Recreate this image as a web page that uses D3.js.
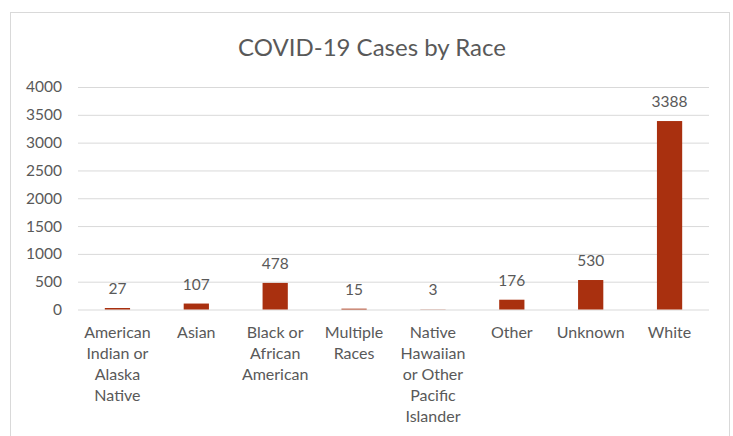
<!DOCTYPE html>
<html><head><meta charset="utf-8">
<script src="https://cdn.jsdelivr.net/npm/d3@7"></script>
<style>body{margin:0;background:#fff}svg{display:block}</style>
</head><body>
<svg id="c" width="733" height="436"></svg>
<script>
const categories = [
  ["American","Indian or","Alaska","Native"],
  ["Asian"],
  ["Black or","African","American"],
  ["Multiple","Races"],
  ["Native","Hawaiian","or Other","Pacific","Islander"],
  ["Other"],
  ["Unknown"],
  ["White"]
];
const values = [27, 107, 478, 15, 3, 176, 530, 3388];
const yTicks = [0, 500, 1000, 1500, 2000, 2500, 3000, 3500, 4000];
const title = "COVID-19 Cases by Race";

const svg = d3.select("#c");
const font = "Lato, 'Open Sans', sans-serif";
const gray = "#595959";

svg.append("rect").attr("x", 10.5).attr("y", 12.5).attr("width", 719).attr("height", 430)
  .attr("fill", "#fff").attr("stroke", "#d9d9d9");

svg.append("text").attr("x", 372).attr("y", 56).attr("text-anchor", "middle")
  .attr("font-family", font).attr("font-size", 24).attr("fill", gray).text(title);

const x = d3.scaleBand().domain(categories.map((d, i) => i)).range([78, 709]).paddingInner(0.68).paddingOuter(0.34);
const y = d3.scaleLinear().domain([0, 4000]).range([309.5, 87]);

const yAxis = svg.append("g").attr("transform", "translate(78,0)")
  .call(d3.axisLeft(y).tickValues(yTicks).tickFormat(d3.format("d")).tickSize(-631).tickPadding(16));
yAxis.select(".domain").remove();
yAxis.selectAll("line").attr("stroke", "#d9d9d9");
yAxis.selectAll("text").attr("font-family", font).attr("font-size", 15.5).attr("fill", gray);

svg.append("g").selectAll("rect").data(values).join("rect")
  .attr("x", (d, i) => x(i)).attr("width", x.bandwidth())
  .attr("y", d => y(d)).attr("height", d => y(0) - y(d))
  .attr("fill", "#a9300f");

svg.append("g").selectAll("text").data(values).join("text")
  .attr("x", (d, i) => x(i) + x.bandwidth() / 2).attr("y", d => y(d) - 14)
  .attr("text-anchor", "middle").attr("font-family", font).attr("font-size", 15.5).attr("fill", gray)
  .text(d => d);

const cat = svg.append("g").selectAll("text").data(categories).join("text")
  .attr("x", (d, i) => x(i) + x.bandwidth() / 2).attr("y", 338)
  .attr("text-anchor", "middle").attr("font-family", font).attr("font-size", 16).attr("fill", gray);
cat.selectAll("tspan").data(d => d).join("tspan")
  .attr("x", function() { return d3.select(this.parentNode).attr("x"); })
  .attr("dy", (d, i) => i === 0 ? 0 : 21).text(d => d);
</script>
</body></html>
